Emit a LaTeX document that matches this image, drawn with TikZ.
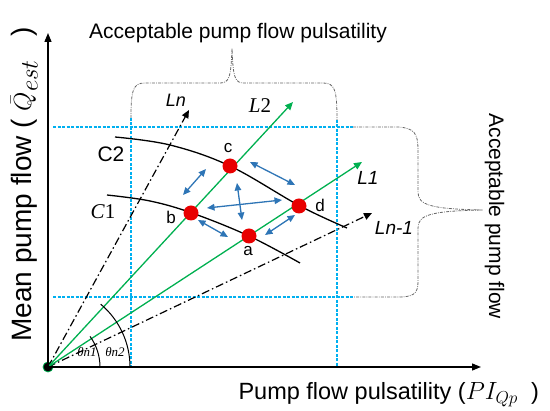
\documentclass[tikz,border=0pt]{standalone}
\usepackage{fontspec}
\setmainfont{Liberation Sans}
\newfontfamily\lserif{Liberation Serif}
\usetikzlibrary{arrows.meta}
\definecolor{grn}{RGB}{0,176,80}
\definecolor{blu}{RGB}{46,117,182}
\definecolor{cyn}{RGB}{0,176,240}
\definecolor{rd}{RGB}{232,0,0}
\tikzset{
  axis/.style={line width=1.3pt,-{Triangle[length=9pt,width=7pt]}},
  gline/.style={grn,line width=1.3pt,-{Triangle[length=8pt,width=7pt]}},
  dline/.style={black,line width=1.2pt,dash pattern=on 8pt off 3pt on 1.5pt off 3pt,-{Triangle[length=8pt,width=7pt]}},
  cdash/.style={cyn,line width=1.1pt,dash pattern=on 3pt off 1.5pt},
  brace/.style={gray!80!black,line width=0.8pt,dash pattern=on 3pt off 1.2pt on 0.8pt off 1.2pt},
  barrow/.style={blu,line width=1.3pt,{Triangle[length=7.5pt,width=6.5pt]}-{Triangle[length=7.5pt,width=6.5pt]}},
  pdot/.style={circle,fill=rd,inner sep=0pt,minimum size=15pt},
  ptlab/.style={font=\fontsize{17}{19}\selectfont},
  curve/.style={black,line width=1.3pt},
}
\begin{document}
\begin{tikzpicture}[x=1pt,y=-1pt]
\useasboundingbox (0,0) rectangle (550,411);
% blue dashed guide lines
\draw[cdash] (53,127) -- (353,127);
\draw[cdash] (53,297) -- (353,297);
\draw[cdash] (131,118) -- (131,367);
\draw[cdash] (337,120) -- (337,367);
% braces
\draw[brace] (131,118) .. controls (131,90) and (133,83) .. (145,83) -- (220,83)
  .. controls (229,83) and (231,78) .. (232,48)
  .. controls (233,78) and (235,83) .. (244,83) -- (323,83)
  .. controls (335,83) and (337,90) .. (337,120);
\draw[brace] (353,127) -- (398,127) .. controls (414,128) and (418,133) .. (418,150) -- (418,192)
  .. controls (418,205) and (430,209) .. (483,210)
  .. controls (430,211) and (418,215) .. (418,228) -- (418,282)
  .. controls (418,294) and (413,297) .. (398,297) -- (353,297);
% curves C1, C2
\draw[curve] plot[smooth,tension=0.6] coordinates {(115,137) (170,145) (230,166) (300,206) (347,228)};
\draw[curve] plot[smooth,tension=0.6] coordinates {(107,195) (150,201) (192,213) (249,236) (300,263)};
% origin
\node[circle,fill=black,draw=grn,line width=0.8pt,inner sep=0pt,minimum size=10pt] (O) at (48,367) {};
% tips
\coordinate (Ytip) at (48,33);
\coordinate (Xtip) at (481,367);
\coordinate (Lntip) at (189,110);
\coordinate (L2tip) at (293,102);
\coordinate (L1tip) at (362,162);
\coordinate (Ln1tip) at (372,213);
% lines
\draw[dline] (O.center) -- (Lntip);
\draw[dline] (O.center) -- (Ln1tip);
\draw[gline] (O.center) -- (L2tip);
\draw[gline] (O.center) -- (L1tip);
% axes
\draw[axis] (O.center) -- (Ytip);
\draw[axis] (O.center) -- (Xtip);
% angle arcs
\draw[line width=1pt] (100,367) arc[start angle=0,end angle=36,radius=52pt];
\draw[line width=1pt] (130,367) arc[start angle=0,end angle=50,radius=82pt];
\node[font=\fontsize{13}{15}\selectfont\lserif\itshape] (t1) at (87,352) {θn1};
\node[font=\fontsize{13}{15}\selectfont\lserif\itshape] (t2) at (115,352) {θn2};
% blue arrows
\coordinate (a1s) at (250,162); \coordinate (a1e) at (295,185);
\coordinate (a2s) at (183,195); \coordinate (a2e) at (206,169);
\coordinate (a3s) at (237,183); \coordinate (a3e) at (242,220);
\coordinate (a4s) at (207,208); \coordinate (a4e) at (282,200);
\coordinate (a5s) at (198,220); \coordinate (a5e) at (228,237);
\coordinate (a6s) at (265,235); \coordinate (a6e) at (295,215);
\draw[barrow] (a1s) -- (a1e);
\draw[barrow] (a2s) -- (a2e);
\draw[barrow] (a3s) -- (a3e);
\draw[barrow] (a4s) -- (a4e);
\draw[barrow] (a5s) -- (a5e);
\draw[barrow] (a6s) -- (a6e);
% red points
\node[pdot] (c) at (230,166) {};
\node[pdot] (b) at (191,213) {};
\node[pdot] (d) at (299,206) {};
\node[pdot] (a) at (249,236) {};
\node[ptlab] (cl) at (228,148) {c};
\node[ptlab] (bl) at (171,217) {b};
\node[ptlab] (dl) at (320,205) {d};
\node[ptlab] (al) at (248,251) {a};
% line labels
\node[font=\fontsize{18}{20}\selectfont\itshape] (lnl) at (176,100) {Ln};
\node[font=\fontsize{21}{24}\selectfont\lserif] (l2l) at (260,106) {{\itshape L}2};
\node[font=\fontsize{19}{21}\selectfont\itshape] (l1l) at (368,178) {L1};
\node[font=\fontsize{19}{21}\selectfont\itshape] (ln1l) at (394,228) {Ln-1};
\node[font=\fontsize{21}{24}\selectfont] (c2l) at (111,154) {C2};
\node[font=\fontsize{21}{24}\selectfont\lserif] (c1l) at (103,212) {{\itshape C}1};
% titles
\node[font=\fontsize{21}{24}\selectfont] (top) at (238,33) {Acceptable pump flow pulsatility};
\node[font=\fontsize{23.5}{26}\selectfont,anchor=base west] (xl) at (235,400) {Pump flow pulsatility ($PI_{Qp}$\ \ )};
\node[font=\fontsize{28}{32}\selectfont,anchor=base west,rotate=90] (yl) at (31,345) {Mean pump flow ( {\fontsize{34}{38}\selectfont$\bar{Q}_{est}$}\ \ \ )};
\node[font=\fontsize{21}{24}\selectfont,anchor=base west,rotate=-90] (rl) at (489,110) {Acceptable pump flow};
\end{tikzpicture}
\end{document}
